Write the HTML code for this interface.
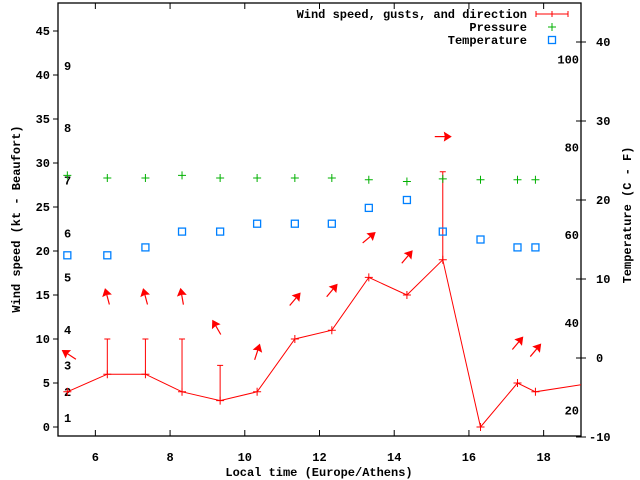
<!DOCTYPE html>
<html><head><meta charset="utf-8"><style>
body{margin:0;background:#fff}
svg{display:block}
text{font-family:"Liberation Mono",monospace;font-weight:bold;font-size:12px;fill:#000}
</style></head><body>
<svg id="chart" width="640" height="480" xmlns="http://www.w3.org/2000/svg"></svg>
<script>
const times=[5.25,6.32,7.34,8.32,9.34,10.33,11.34,12.33,13.32,14.34,15.30,16.31,17.30,17.78,19.3];
const windSpeed=[4,6,6,4,3,4,10,11,17,15,19,0,5,4,5];
const gustTimes=[6.32,7.34,8.32,9.34,15.30];
const gustValues=[10,10,10,7,29];
const pressure=[28.6,28.3,28.3,28.6,28.3,28.3,28.3,28.3,28.1,27.9,28.2,28.1,28.1,28.1];
const temperature=[13,13,14,16,16,17,17,17,19,20,16,15,14,14];
const arrowTimes=[5.3,6.32,7.34,8.32,9.25,10.33,11.34,12.33,13.32,14.34,15.30,17.30,17.78];
const arrowLevel=[8.2,14.8,14.8,14.8,11.3,8.5,14.5,15.5,21.5,19.3,33,9.5,8.7];
const arrowBearing=[303,345,345,350,330,18,40,40,50,40,90,40,40];
const xTicks=[6,8,10,12,14,16,18];
const yTicks=[0,5,10,15,20,25,30,35,40,45];
const tTicks=[-10,0,10,20,30,40];
const fTicks=[20,40,60,80,100];
const beaufort=[1,2,3,4,5,6,7,8,9];
const beaufortKt=[1,4,7,11,17,22,28,34,41];

const L=58,R=581,T=3,B=436;
const x=t=>L+(t-5)*(R-L)/14;
const y=v=>427-v*8.8;
const yt=c=>358-c*7.9;
const yf=f=>yt((f-32)*5/9);
const S=document.getElementById('chart');
const NS='http://www.w3.org/2000/svg';
function el(tag,attrs,parent){const e=document.createElementNS(NS,tag);for(const k in attrs)e.setAttribute(k,attrs[k]);(parent||S).appendChild(e);return e;}
function txt(s,x0,y0,anchor){const e=el('text',{x:x0,y:y0,'text-anchor':anchor||'start'});e.textContent=s;return e;}

const clip=el('clipPath',{id:'pc'});el('rect',{x:L,y:T,width:R-L,height:B-T},clip);

const fr=el('rect',{x:L,y:T,width:R-L,height:B-T,fill:'none',stroke:'#000','stroke-width':1.3});



xTicks.forEach(t=>{
  el('line',{x1:x(t),x2:x(t),y1:B,y2:B-6,stroke:'#000'});
  el('line',{x1:x(t),x2:x(t),y1:T,y2:T+6,stroke:'#000'});
  const e=txt(String(t),x(t),461,'middle');
  
  
});
yTicks.forEach(v=>{
  el('line',{x1:L-5,x2:L,y1:y(v),y2:y(v),stroke:'#000'});
  const e=txt(String(v),50,y(v)+4,'end');
  
  
});
tTicks.forEach(c=>{
  el('line',{x1:R,x2:R+5,y1:yt(c),y2:yt(c),stroke:'#000'});
  el('line',{x1:R-5,x2:R,y1:yt(c),y2:yt(c),stroke:'#000'});
  const e=txt(String(c),c<0?589:596,yt(c)+4);
  
  
});
fTicks.forEach(f=>{
  const e=txt(String(f),579,yf(f)+4,'end');
  
  
});
beaufort.forEach((b,i)=>{
  const e=txt(String(b),64,y(beaufortKt[i])+4);
  
  
});

const g=el('g',{'clip-path':'url(#pc)'});
const pts=times.map((t,i)=>x(t)+','+y(windSpeed[i])).join(' ');
const wl=el('polyline',{points:pts,fill:'none',stroke:'#f00','stroke-width':1},g);


times.forEach((t,i)=>{
  const p=el('path',{d:`M${x(t)-4},${y(windSpeed[i])}h8M${x(t)},${y(windSpeed[i])-4}v8`,stroke:'#f00'},g);
  
  
});
gustTimes.forEach((t,i)=>{
  const iw=times.indexOf(t);
  const base=iw>=0?windSpeed[iw]:0;
  const p=el('path',{d:`M${x(t)},${y(base)}V${y(gustValues[i])}M${x(t)-3},${y(gustValues[i])}h6`,stroke:'#f00'},g);
  
  
});
pressure.forEach((v,i)=>{
  const p=el('path',{d:`M${x(times[i])-4},${y(v)}h8M${x(times[i])},${y(v)-4}v8`,stroke:'#00b000'},g);
  
  
});
temperature.forEach((c,i)=>{
  const r=el('rect',{x:x(times[i])-3.5,y:yt(c)-3.5,width:7,height:7,fill:'none',stroke:'#0080ff','stroke-width':1.3},g);
  
  
});
arrowTimes.forEach((t,i)=>{
  const cx=x(t),cy=y(arrowLevel[i]);
  const a=el('g',{transform:`translate(${cx},${cy}) rotate(${arrowBearing[i]-90})`},g);
  
  
  el('line',{x1:-8,y1:0,x2:4,y2:0,stroke:'#f00','stroke-width':1.2},a);
  el('polygon',{points:'9,0 1,-5 2,0 1,5',fill:'#f00'},a);
});

let e=txt('Local time (Europe/Athens)',319,476,'middle');

e=el('text',{x:0,y:0,'text-anchor':'middle',transform:'translate(20,219) rotate(-90)'});e.textContent='Wind speed (kt - Beaufort)';

e=el('text',{x:0,y:0,'text-anchor':'middle',transform:'translate(631,215) rotate(-90)'});e.textContent='Temperature (C - F)';


const lg=el('g',{});


e=txt('Wind speed, gusts, and direction',527,18,'end');
el('path',{d:'M536,14h32M536,11v6M568,11v6M552,11v6',stroke:'#f00'},lg);
e=txt('Pressure',527,31,'end');
el('path',{d:'M548,27h8M552,23v8',stroke:'#00b000'},lg);
e=txt('Temperature',527,44,'end');
el('rect',{x:548.5,y:36.5,width:7,height:7,fill:'none',stroke:'#0080ff','stroke-width':1.3},lg);
</script>
</body></html>
